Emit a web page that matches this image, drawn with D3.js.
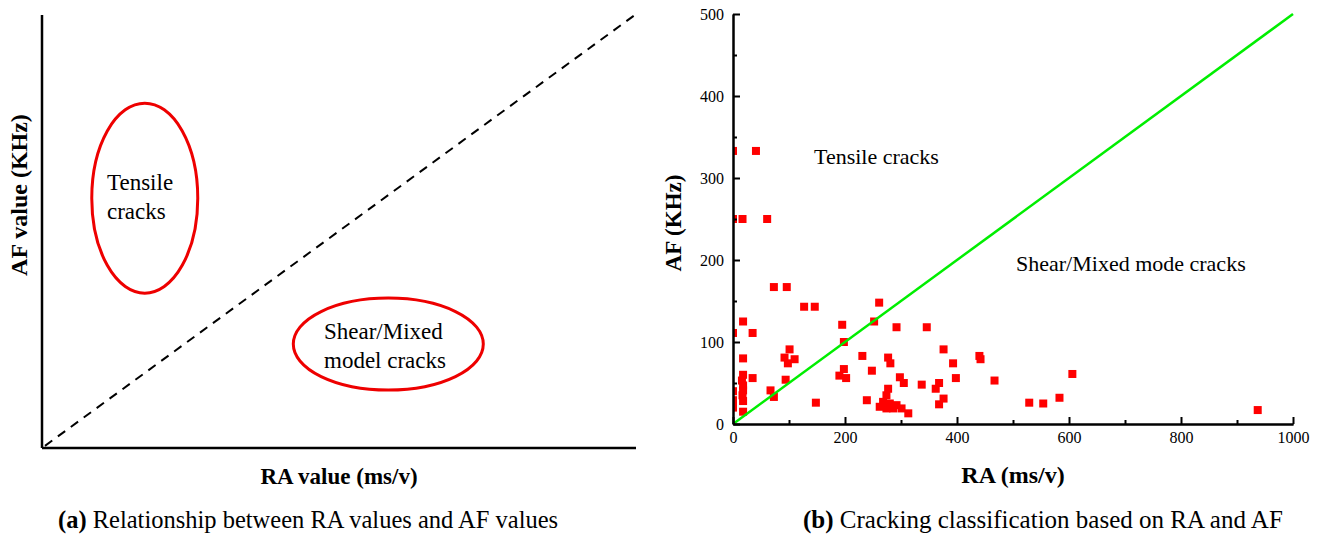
<!DOCTYPE html>
<html>
<head>
<meta charset="utf-8">
<script src="https://cdn.jsdelivr.net/npm/d3@7"></script>
<style>
  body { margin: 0; background: #fff; }
  svg { display: block; font-family: "Liberation Serif", "Times New Roman", serif; }
  .axis path, .axis line { stroke: #000; stroke-width: 2; }
  .axis text { font-family: "Liberation Serif", serif; font-size: 16px; fill: #000; }
</style>
</head>
<body>
<div id="chart"></div>
<script>
// scatter data: RA (ms/v) and AF (KHz)
var raValues = [0, 41, 0, 17, 61, 73, 96, 127, 146, 18, 0, 35, 195, 252, 261, 198, 101, 92, 110, 98,
  18, 231, 277, 281, 292, 346, 376, 393, 440, 442, 198, 202, 190, 248, 298, 305, 337, 368, 362, 398,
  467, 277, 274, 268, 262, 280, 274, 292, 301, 313, 286, 239, 376, 368, 148, 94, 67, 73, 18, 16,
  18, 18, 17, 18, 18, 0, 0, 0, 35, 529, 554, 583, 606, 937];
var afValues = [333, 333, 250, 250, 250, 167, 167, 143, 143, 125, 111, 111, 121, 125, 148, 100, 91, 81, 79, 74,
  80, 83, 81, 74, 118, 118, 91, 74, 83, 79, 67, 56, 59, 65, 57, 50, 48, 50, 43, 56,
  53, 43, 35, 27, 21, 25, 19, 23, 19, 13, 19, 29, 31, 24, 26, 54, 41, 33, 60, 53,
  47, 41, 35, 28, 15, 40, 29, 20, 56, 26, 25, 32, 61, 17];
var xTicks = [0, 200, 400, 600, 800, 1000];
var xMinorTicks = [100, 300, 500, 700, 900];
var yTicks = [0, 100, 200, 300, 400, 500];
var yMinorTicks = [50, 150, 250, 350, 450];

var W = 1320, H = 534;
var svg = d3.select('#chart').append('svg')
    .attr('width', W).attr('height', H);

// ---------- panel (a): schematic ----------
var lx = d3.scaleLinear().domain([0, 1]).range([42, 636]);
var ly = d3.scaleLinear().domain([0, 1]).range([448, 15]);

var a = svg.append('g');

a.append('line')
    .attr('x1', lx(0)).attr('y1', ly(1)).attr('x2', lx(0)).attr('y2', ly(0))
    .style('stroke', '#000').style('stroke-width', 2.5);
a.append('line')
    .attr('x1', lx(0)).attr('y1', ly(0)).attr('x2', lx(1)).attr('y2', ly(0))
    .style('stroke', '#000').style('stroke-width', 2.5);

// dashed boundary line
a.append('line')
    .attr('x1', lx(0.005)).attr('y1', ly(0.005)).attr('x2', lx(1)).attr('y2', ly(1.002))
    .style('stroke', '#000').style('stroke-width', 2)
    .style('stroke-dasharray', '9,7');

// regions
a.append('ellipse')
    .attr('cx', lx(0.173)).attr('cy', ly(0.577))
    .attr('rx', 53).attr('ry', 95)
    .style('fill', 'none').style('stroke', '#e00').style('stroke-width', 3);
a.append('ellipse')
    .attr('cx', lx(0.583)).attr('cy', ly(0.24))
    .attr('rx', 95).attr('ry', 46)
    .style('fill', 'none').style('stroke', '#e00').style('stroke-width', 3);

var regionText = a.append('g').style('font-size', '23px');
regionText.append('text').attr('x', 107).attr('y', 190).text('Tensile');
regionText.append('text').attr('x', 107).attr('y', 219).text('cracks');
regionText.append('text').attr('x', 324).attr('y', 339).text('Shear/Mixed');
regionText.append('text').attr('x', 324).attr('y', 368).text('model cracks');

a.append('text')
    .attr('transform', 'translate(27,195) rotate(-90)')
    .style('text-anchor', 'middle').style('font-weight', 'bold').style('font-size', '24px')
    .text('AF value (KHz)');
a.append('text')
    .attr('x', 339).attr('y', 484)
    .style('text-anchor', 'middle').style('font-weight', 'bold').style('font-size', '23px')
    .text('RA value (ms/v)');

var capA = a.append('text').attr('x', 58).attr('y', 528).style('font-size', '24.5px');
capA.append('tspan').style('font-weight', 'bold').text('(a)');
capA.append('tspan').text(' Relationship between RA values and AF values');

// ---------- panel (b): scatter ----------
var x = d3.scaleLinear().domain([0, 1000]).range([733, 1293]);
var y = d3.scaleLinear().domain([0, 500]).range([424, 14]);

var b = svg.append('g');

b.append('defs').append('clipPath').attr('id', 'plotclip')
  .append('rect')
    .attr('x', x(0)).attr('y', y(500) - 6)
    .attr('width', x(1000) - x(0) + 6).attr('height', y(0) - y(500) + 6);

var pts = raValues.map(function(d, i){ return {ra: d, af: afValues[i]}; });

var s = 8;
b.append('g').attr('clip-path', 'url(#plotclip)')
  .selectAll('rect')
    .data(pts)
  .enter().append('rect')
    .attr('x', function(d){ return x(d.ra) - s / 2; })
    .attr('y', function(d){ return y(d.af) - s / 2; })
    .attr('width', s).attr('height', s)
    .style('fill', '#ff0000');

// AF/RA = 1/2 boundary
b.append('line')
    .attr('x1', x(0)).attr('y1', y(0)).attr('x2', x(1000)).attr('y2', y(500))
    .style('stroke', '#00ee00').style('stroke-width', 2.5);

b.append('g').attr('class', 'axis')
    .attr('transform', 'translate(0,' + y(0) + ')')
    .call(d3.axisBottom(x).tickValues(xMinorTicks).tickFormat('').tickSizeInner(-4).tickSizeOuter(0));
b.append('g').attr('class', 'axis')
    .attr('transform', 'translate(0,' + y(0) + ')')
    .call(d3.axisBottom(x).tickValues(xTicks).tickFormat(d3.format('d'))
      .tickSizeInner(-7).tickSizeOuter(0).tickPadding(8));

b.append('g').attr('class', 'axis')
    .attr('transform', 'translate(' + x(0) + ',0)')
    .call(d3.axisLeft(y).tickValues(yMinorTicks).tickFormat('').tickSizeInner(-4).tickSizeOuter(0));
b.append('g').attr('class', 'axis')
    .attr('transform', 'translate(' + x(0) + ',0)')
    .call(d3.axisLeft(y).tickValues(yTicks).tickFormat(d3.format('d'))
      .tickSizeInner(-7).tickSizeOuter(0).tickPadding(9));

b.append('text')
    .attr('transform', 'translate(681,223) rotate(-90)')
    .style('text-anchor', 'middle').style('font-weight', 'bold').style('font-size', '23px')
    .text('AF (KHz)');
b.append('text')
    .attr('x', 1013).attr('y', 483)
    .style('text-anchor', 'middle').style('font-weight', 'bold').style('font-size', '24px')
    .text('RA (ms/v)');

b.append('text').attr('x', 814).attr('y', 164).style('font-size', '22px').text('Tensile cracks');
b.append('text').attr('x', 1016).attr('y', 271).style('font-size', '22px').text('Shear/Mixed mode cracks');

var capB = b.append('text').attr('x', 803).attr('y', 528).style('font-size', '25px');
capB.append('tspan').style('font-weight', 'bold').text('(b)');
capB.append('tspan').text(' Cracking classification based on RA and AF');
</script>
</body>
</html>
